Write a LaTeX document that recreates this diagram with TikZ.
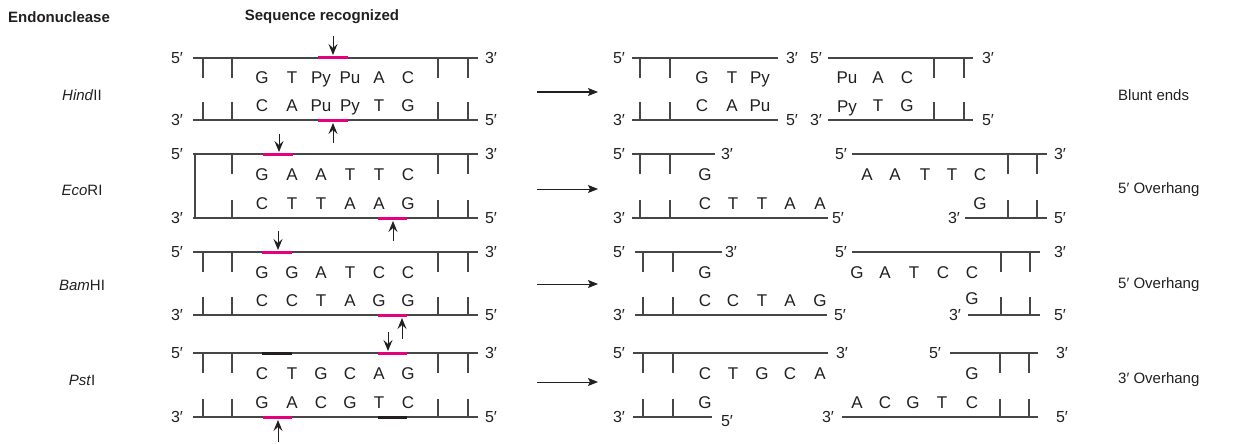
\documentclass[tikz,border=0pt]{standalone}
\usepackage{fontspec}
\setmainfont{Liberation Sans}
\usetikzlibrary{arrows.meta}
\definecolor{strandgray}{RGB}{70,70,70}
\definecolor{ink}{RGB}{35,31,32}
\definecolor{cutpink}{RGB}{230,0,126}
\tikzset{
  dna/.style={draw=strandgray, line width=1.1pt},
  base/.style={font=\fontsize{17}{17}\selectfont, text=ink, inner sep=0pt, anchor=base},
  prime/.style={font=\fontsize{16}{16}\selectfont, text=ink, inner sep=0pt},
  head/.style={font=\fontsize{15}{15}\selectfont\bfseries, text=ink, inner sep=0pt},
  enzyme/.style={font=\fontsize{15}{15}\selectfont, text=ink, inner sep=0pt},
  result/.style={font=\fontsize{15}{15}\selectfont, text=ink, inner sep=0pt, anchor=west},
  cutmark/.style={cutpink, line width=3pt},
  sitemark/.style={ink, line width=3pt},
  cutarrow/.style={draw=ink, line width=1pt, -{Stealth[length=11pt,width=9pt,inset=4pt]}},
  steparrow/.style={draw=ink, line width=1pt, -{Stealth[length=10pt,width=8pt,inset=2pt]}}
}
\begin{document}
\begin{tikzpicture}[x=1pt,y=-1pt]
  \useasboundingbox (0,0) rectangle (1248,444);

  \node[head, anchor=west] (endo) at (8,17) {Endonuclease};
  \node[head] (seq) at (322,17) {Sequence recognized};

  % uncut duplexes
  \foreach \t/\b in {58/120,154/218,252/315,353/417} {
    \draw[dna] (193,\t) -- (478,\t);
    \draw[dna] (193,\b) -- (478,\b);
    \foreach \x in {232,438,468} {
      \draw[dna] (\x,\t) -- ++(0,20);
      \draw[dna] (\x,\b) -- ++(0,-18);
    }
    \node[prime] at (177,\t) {5′};
    \node[prime] at (491,\t) {3′};
    \node[prime] at (177,\b) {3′};
    \node[prime] at (491,\b) {5′};
  }
  \foreach \t/\b in {58/120,252/315,353/417} {
    \draw[dna] (203,\t) -- ++(0,20);
    \draw[dna] (203,\b) -- ++(0,-18);
  }
  \draw[dna] (195,154) -- (195,218);

  \foreach \x/\s in {262/G,292/T,321/Py,350/Pu,379/A,408/C} \node[base] at (\x,84) {\s};
  \foreach \x/\s in {262/C,292/A,321/Pu,350/Py,379/T,408/G} \node[base] at (\x,111) {\s};
  \foreach \x/\s in {262/G,292/A,321/A,350/T,379/T,408/C} \node[base] at (\x,180) {\s};
  \foreach \x/\s in {262/C,292/T,321/T,350/A,379/A,408/G} \node[base] at (\x,209) {\s};
  \foreach \x/\s in {262/G,292/G,321/A,350/T,379/C,408/C} \node[base] at (\x,278) {\s};
  \foreach \x/\s in {262/C,292/C,321/T,350/A,379/G,408/G} \node[base] at (\x,306) {\s};
  \foreach \x/\s in {262/C,292/T,321/G,350/C,379/A,408/G} \node[base] at (\x,379) {\s};
  \foreach \x/\s in {262/G,292/A,321/C,350/G,379/T,408/C} \node[base] at (\x,408) {\s};

  % cleavage sites
  \draw[cutmark] (318,58) -- (348,58);
  \draw[cutmark] (318,120) -- (348,120);
  \draw[cutmark] (263,154) -- (293,154);
  \draw[cutmark] (378,218) -- (407,218);
  \draw[cutmark] (262,252) -- (292,252);
  \draw[cutmark] (378,315) -- (407,315);
  \draw[sitemark] (262,353) -- (292,353);
  \draw[cutmark] (378,353) -- (407,353);
  \draw[cutmark] (263,417) -- (292,417);
  \draw[sitemark] (378,417) -- (407,417);

  \draw[cutarrow] (333,36) -- (333,55);
  \draw[cutarrow] (333,143) -- (333,123);
  \draw[cutarrow] (279,134) -- (279,152);
  \draw[cutarrow] (393,241) -- (393,221);
  \draw[cutarrow] (278,231) -- (278,250);
  \draw[cutarrow] (402,339) -- (402,318);
  \draw[cutarrow] (388,332) -- (388,351);
  \draw[cutarrow] (278,442) -- (278,420);

  % enzymes and their products
  \node[enzyme] (hind) at (82,95) {\textit{Hind}II};
  \node[enzyme] (eco) at (82,190) {\textit{Eco}RI};
  \node[enzyme] (bam) at (82,285) {\textit{Bam}HI};
  \node[enzyme] (pst) at (82,380) {\textit{Pst}I};

  \foreach \n/\y in {hind/92,eco/189,bam/284,pst/382} {
    \coordinate (\n-from) at (537,\y);
    \coordinate (\n-to) at (598,\y);
    \draw[steparrow] (\n-from) -- (\n-to);
  }

  \node[result] (blunt) at (1118,95) {Blunt ends};
  \node[result] (eco-end) at (1118,190) {5′ Overhang};
  \node[result] (bam-end) at (1118,285) {5′ Overhang};
  \node[result] (pst-end) at (1118,380) {3′ Overhang};

  % HindII fragments
  \draw[dna] (632,58) -- (778,58);
  \draw[dna] (632,120) -- (778,120);
  \draw[dna] (828,58) -- (973,58);
  \draw[dna] (828,120) -- (973,120);
  \foreach \x in {640,670,934,964} {
    \draw[dna] (\x,58) -- ++(0,20);
    \draw[dna] (\x,120) -- ++(0,-18);
  }
  \node[prime] at (619,58) {5′};  \node[prime] at (792,58) {3′};
  \node[prime] at (816,58) {5′};  \node[prime] at (988,58) {3′};
  \node[prime] at (619,120) {3′}; \node[prime] at (792,120) {5′};
  \node[prime] at (816,120) {3′}; \node[prime] at (988,120) {5′};
  \foreach \x/\s in {702/G,732/T,760/Py,847/Pu,878/A,907/C} \node[base] at (\x,84) {\s};
  \foreach \x/\s in {702/C,732/A,760/Pu,878/T,907/G} \node[base] at (\x,111) {\s};
  \node[base] at (847,113) {Py};

  % EcoRI fragments
  \draw[dna] (632,154) -- (715,154);
  \draw[dna] (632,218) -- (828,218);
  \draw[dna] (852,154) -- (1047,154);
  \draw[dna] (965,218) -- (1047,218);
  \foreach \x in {640,670,1008,1037} {
    \draw[dna] (\x,154) -- ++(0,20);
    \draw[dna] (\x,218) -- ++(0,-18);
  }
  \node[prime] at (619,154) {5′};  \node[prime] at (727,154) {3′};
  \node[prime] at (619,218) {3′};  \node[prime] at (838,218) {5′};
  \node[prime] at (841,154) {5′};  \node[prime] at (1060,154) {3′};
  \node[prime] at (954,218) {3′};  \node[prime] at (1060,218) {5′};
  \node[base] at (705,180) {G};
  \foreach \x/\s in {705/C,733/T,762/T,790/A,820/A} \node[base] at (\x,209) {\s};
  \foreach \x/\s in {867/A,895/A,925/T,952/T,980/C} \node[base] at (\x,180) {\s};
  \node[base] at (980,209) {G};

  % BamHI fragments
  \draw[dna] (635,252) -- (722,252);
  \draw[dna] (635,315) -- (827,315);
  \draw[dna] (852,252) -- (1040,252);
  \draw[dna] (968,315) -- (1040,315);
  \foreach \x in {643,673,1001,1030} {
    \draw[dna] (\x,252) -- ++(0,20);
    \draw[dna] (\x,315) -- ++(0,-18);
  }
  \node[prime] at (619,252) {5′};  \node[prime] at (731,252) {3′};
  \node[prime] at (619,315) {3′};  \node[prime] at (840,315) {5′};
  \node[prime] at (841,252) {5′};  \node[prime] at (1060,252) {3′};
  \node[prime] at (955,315) {3′};  \node[prime] at (1060,315) {5′};
  \node[base] at (705,278) {G};
  \foreach \x/\s in {705/C,733/C,762/T,790/A,820/G} \node[base] at (\x,306) {\s};
  \foreach \x/\s in {857/G,885/A,914/T,943/C,972/C} \node[base] at (\x,278) {\s};
  \node[base] at (972,304) {G};

  % PstI fragments
  \draw[dna] (633,353) -- (828,353);
  \draw[dna] (633,417) -- (712,417);
  \draw[dna] (950,353) -- (1038,353);
  \draw[dna] (842,417) -- (1038,417);
  \foreach \x in {643,673,1000,1029} {
    \draw[dna] (\x,353) -- ++(0,20);
    \draw[dna] (\x,417) -- ++(0,-18);
  }
  \node[prime] at (619,353) {5′};  \node[prime] at (842,353) {3′};
  \node[prime] at (619,417) {3′};  \node[prime] at (727,421) {5′};
  \node[prime] at (935,353) {5′};  \node[prime] at (1062,353) {3′};
  \node[prime] at (828,417) {3′};  \node[prime] at (1062,417) {5′};
  \foreach \x/\s in {705/C,733/T,762/G,790/C,820/A} \node[base] at (\x,379) {\s};
  \node[base] at (705,408) {G};
  \node[base] at (972,379) {G};
  \foreach \x/\s in {857/A,885/C,913/G,942/T,972/C} \node[base] at (\x,408) {\s};
\end{tikzpicture}
\end{document}
